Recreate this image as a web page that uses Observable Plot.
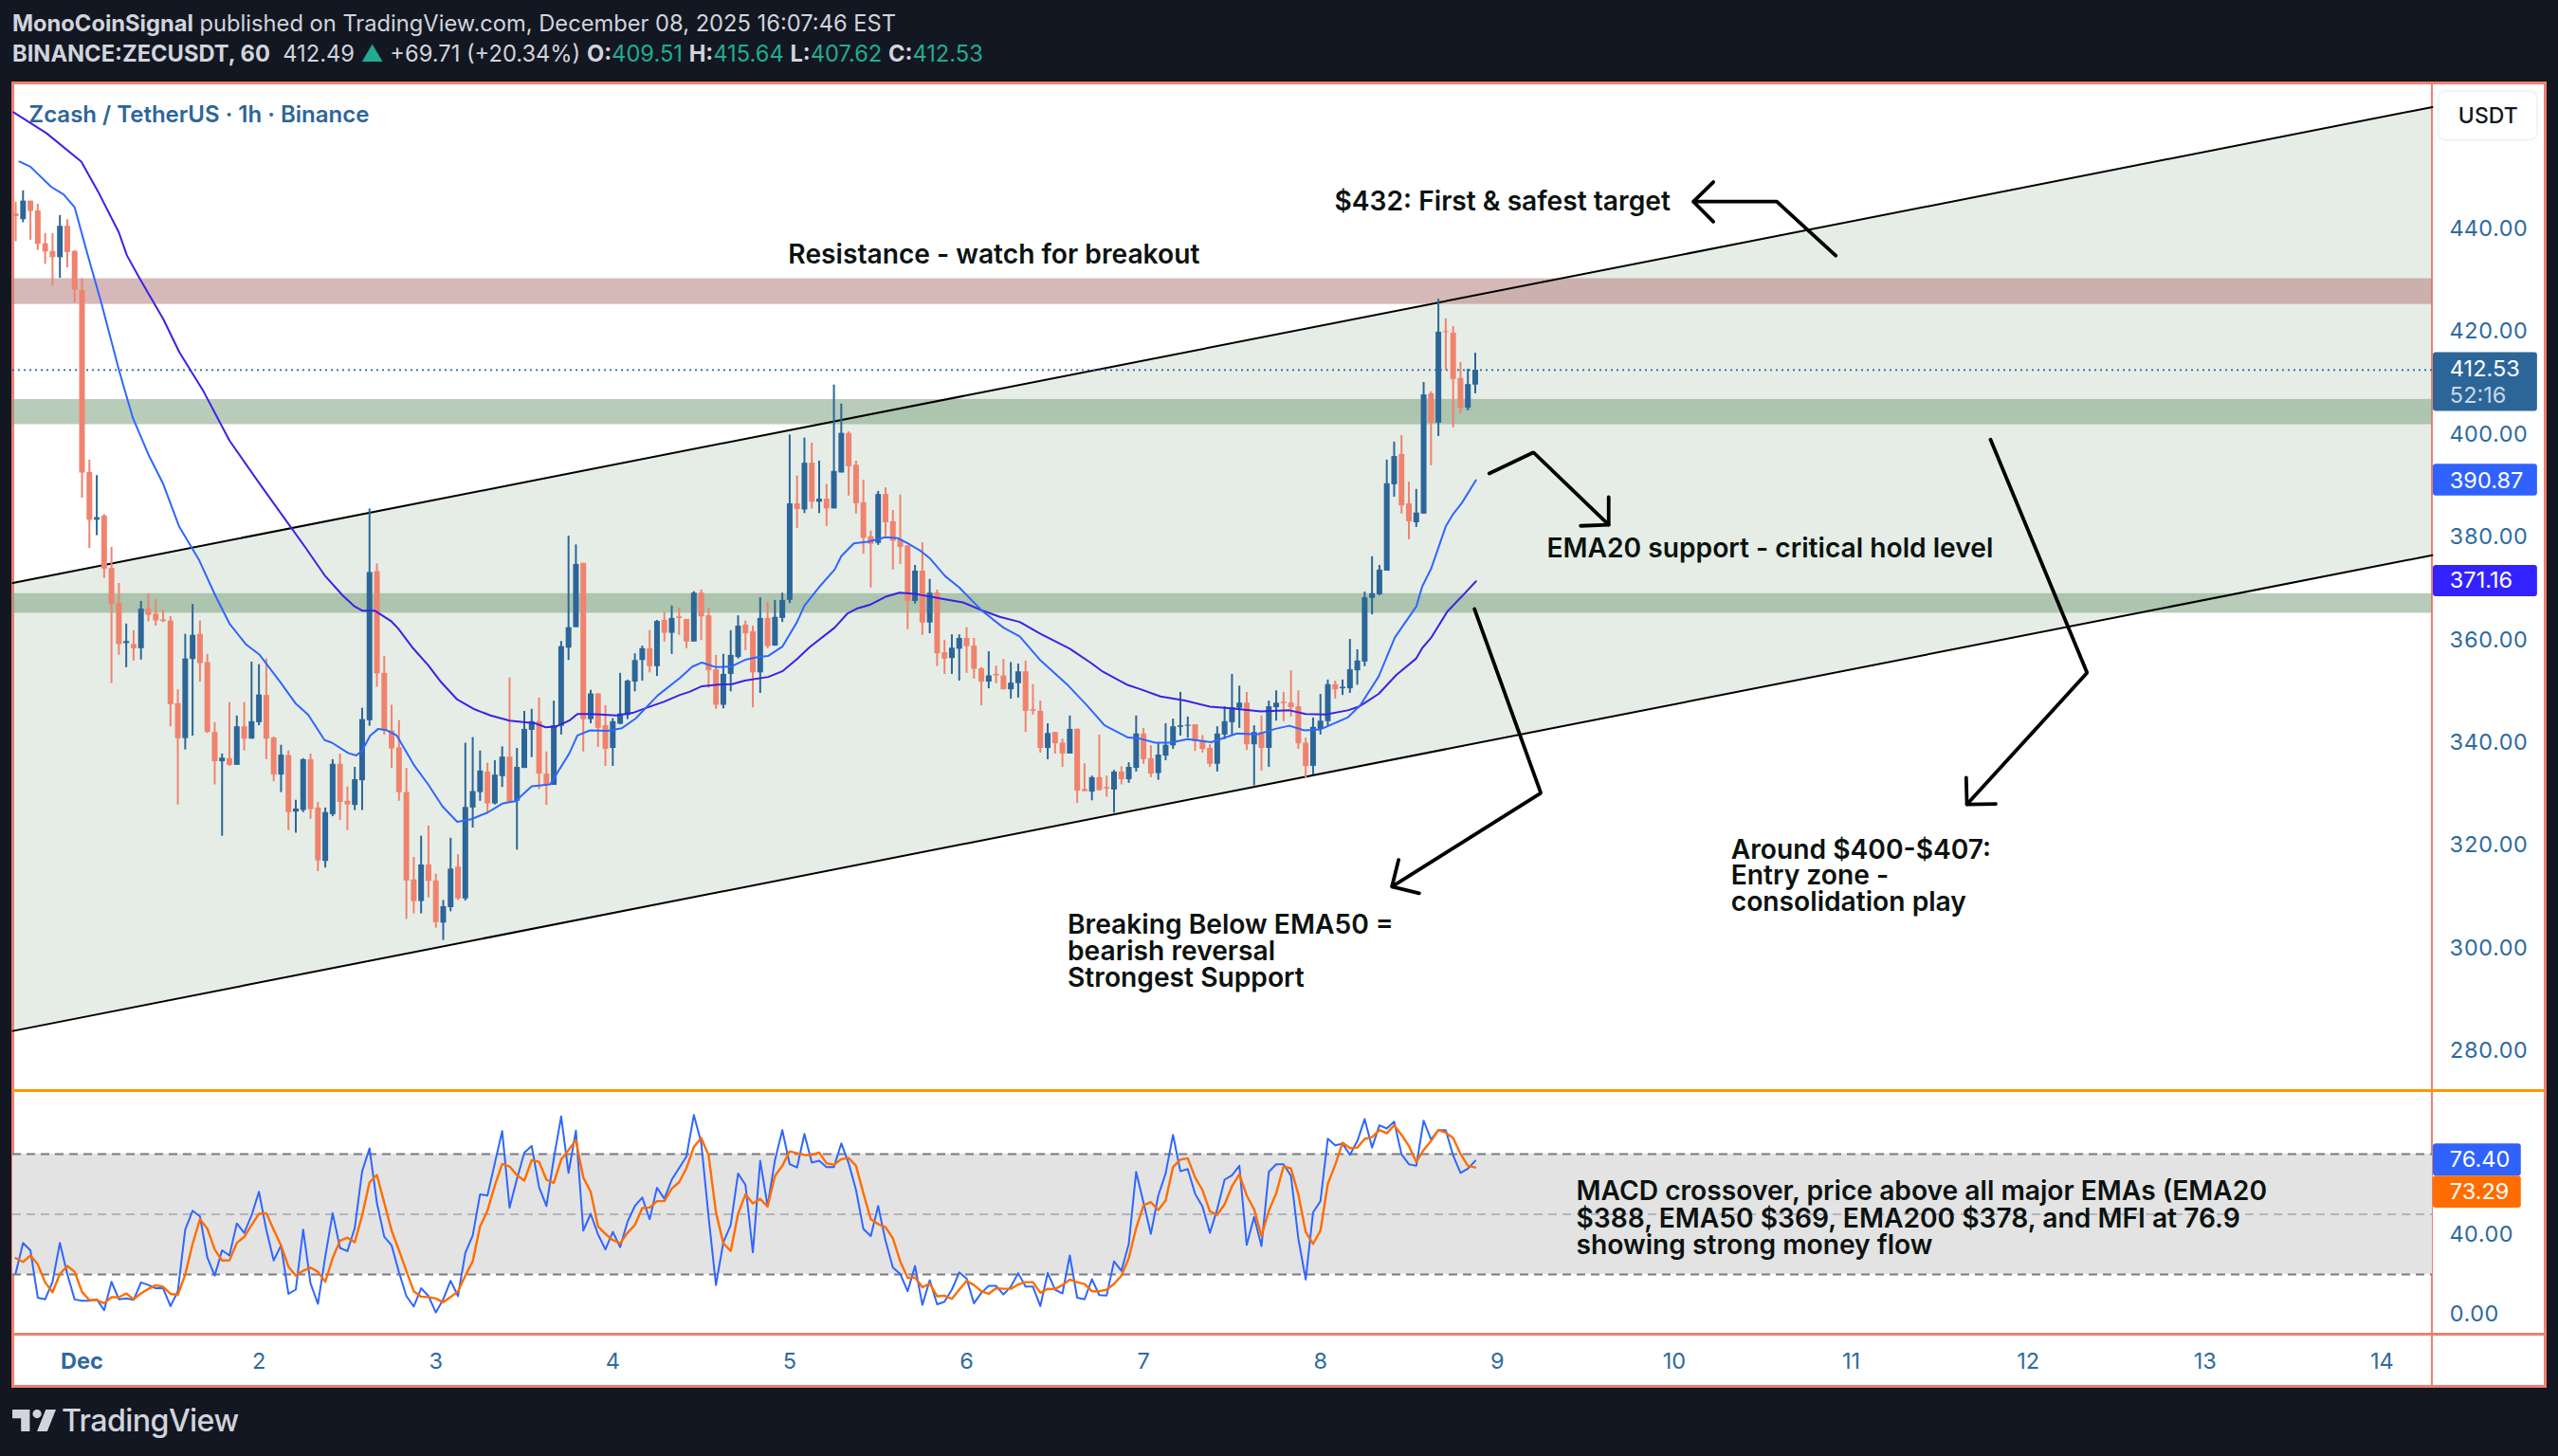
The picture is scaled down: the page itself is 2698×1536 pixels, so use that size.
<!DOCTYPE html>
<html>
<head>
<meta charset="utf-8">
<title>ZECUSDT 1h</title>
<script src="https://cdn.jsdelivr.net/npm/d3@7"></script>
<script src="https://cdn.jsdelivr.net/npm/@observablehq/plot@0.6"></script>
<style>
html,body{margin:0;padding:0;background:#131722;}
#page{position:relative;width:2698px;height:1536px;overflow:hidden;font-family:Inter,Roboto,sans-serif;}
#frame{position:absolute;left:11.5px;top:85.5px;width:2674px;height:1378px;box-sizing:border-box;border:3px solid #f0806e;background:#fff;}
.sep{position:absolute;}
#head{position:relative;height:86px;color:#d1d4dc;font-size:23.7px;line-height:32px;padding-left:13px;box-sizing:border-box;padding-top:9px;white-space:pre;}
#head b{font-weight:700;}
#head i{font-style:normal;color:#22ab94;}
#charts{position:relative;}
#charts svg{display:block;overflow:visible;}
#foot{position:relative;height:86px;color:#d1d4dc;}
#foot svg{position:absolute;left:13px;top:24px;}
#foot span{position:absolute;left:65px;top:16px;font-size:32.2px;font-weight:500;line-height:40px;letter-spacing:-0.6px;}
</style>
</head>
<body>
<div id="page">
  <div id="frame"></div>
  <div class="sep" style="left:2563.5px;top:87px;width:2.5px;height:1375px;background:#f0806e"></div>
  <div class="sep" style="left:13px;top:1149px;width:2671px;height:2.5px;background:#ff9800"></div>
  <div class="sep" style="left:13px;top:1406px;width:2671px;height:2.5px;background:#f0806e"></div>
  <div id="head"><div><b>MonoCoinSignal</b> published on TradingView.com, December 08, 2025 16:07:46 EST</div><div><b>BINANCE:ZECUSDT, 60</b>  412.49 <i>▲</i> +69.71 (+20.34%) <b>O:</b><i>409.51</i> <b>H:</b><i>415.64</i> <b>L:</b><i>407.62</i> <b>C:</b><i>412.53</i></div></div>
  <div id="charts"></div>
  <div id="foot">
    <svg width="46" height="23" viewBox="2 6 30 15"><path fill="#d1d4dc" d="M14 6H2v6h6v9h6V6Zm12 15h-7l6-15h7l-6 15Zm-7-9a3 3 0 1 0 0-6 3 3 0 0 0 0 6Z"/></svg>
    <span>TradingView</span>
  </div>
</div>
<script>
// Hourly candles, Dec 2025 (first candle is 9 hours before the "Dec" tick)
const opens = [442.9,441.8,445.4,443.5,437.1,435.6,434.4,440.5,435.6,428,
392.6,383.3,384.1,373.9,367.1,359.3,359.1,358.3,366,365,
363.9,363.7,347.6,340.8,356.2,361.1,355.6,342,336.3,336.9,
335.6,343.1,340.7,343.9,349.2,340.9,333.7,337.5,326.5,326.8,
336.7,327.3,316.9,326,335.8,328.6,327.8,332.6,344.3,373.3,
353.5,342.3,339,330.3,313.3,309.1,316.2,313.1,304.9,307.9,
315.8,309.6,327.3,330.3,334.3,328.1,333.4,337.2,328.6,335,
342.4,344.1,333.9,331.7,343.2,358.4,362.4,374.9,344.5,349.5,
343.3,338.9,343.6,345.3,351.8,356,358.3,354.8,363.8,361.3,
364.5,364,359.6,369.1,364.7,354.2,347.3,353.3,356.6,362.9,
361.6,353.6,364.2,358.8,364.2,367.7,386.5,385.3,394.4,386.8,
387.4,385.5,392.5,400.2,394,386.7,380.1,378.8,388.3,383,
379.5,378.3,367.5,373.4,363.3,369.1,357.5,356.4,358.2,360.3,
358.8,354.4,351.8,353.3,353,350.3,351.5,353.8,346.4,346.1,
338.9,342,339.9,337.8,342.6,330.9,330.4,333.2,331.3,330.8,
334.3,332.8,335,341.7,336.9,334,337.4,339.4,343,343.2,
343.5,340.4,338.9,335.8,341.5,343.9,346.7,347.7,339.6,342,
338.9,346.8,347.9,347.7,347,339.9,335.4,342.6,344.1,351.3,
350.5,350.5,354,355.7,368.1,368.8,373.4,390.2,396.1,386.5,
382.8,384.5,407.9,402.2,420,419.7,410.9,405.1,409.6];
const highs = [445.2,447.4,445.4,444.8,439.1,439.1,442.6,441.8,435.8,430.3,
395,392,384.4,378,371,363.1,361.8,367.5,369,367.9,
365.8,364.6,350.3,361.1,366.9,363.7,357.2,343.9,337.8,347.8,
345.2,347.8,355.7,355.2,356.3,341.1,339.5,338.4,328.8,336.9,
337.8,328.4,327.3,336.7,337.8,331.4,335.2,346.7,385.5,374.8,
356.8,347.3,344.3,335,317.7,321.8,323.8,314.4,309.3,321.4,
318.2,339.9,341,338.4,336,336.5,339.2,352.6,338.9,346.1,
346.5,348.7,338.2,348.1,359.7,380.2,378.5,374.9,350.2,349.6,
347.2,344.7,353.5,352.2,357.3,358.8,361.8,363.8,365.3,366.6,
366.2,364,369.4,369.7,366.2,357,357.2,361.8,364.7,363.7,
362.7,368.2,367.3,367.7,369.1,399.9,391.9,399.3,398.3,394.8,
390.3,409.6,405.9,400.5,394.8,391.1,381.2,388.9,389.6,385.2,
388.2,378.3,374.5,378.9,371.8,369.7,359.9,361,361,362.4,
360.3,354.6,357.7,354.9,356.2,355.6,355.3,355.9,351.3,348.1,
343.7,342,340.7,345.2,342.7,335.9,333.5,341.5,333.5,334.6,
335.3,336.1,345.2,342.8,339.4,339.9,343.7,344.6,349.8,345,
343.5,341.4,339.6,343.1,347,353.3,351,349.8,343.3,345.2,
348.1,350.1,349.8,354,350.1,340.9,344.8,349.4,352.2,352,
352.2,360.1,358.1,369.3,376.2,374.5,395,398.5,399.8,390.7,
389.3,410.1,408.3,426.3,422.5,421,414,412.7,415.8];
const lows = [437.5,441.2,437.8,435.8,433.1,428.9,430.4,432.4,425.6,387.6,
377.8,380.3,372,351.5,357,354.6,355.9,356.1,363.5,362.7,
363.4,343.1,327.9,338.6,341.3,351.8,341.8,331.8,321.8,335.4,
335.6,338.4,340.7,343.3,336.7,332.4,330.3,322.9,322.4,326.4,
325.1,314.9,315.6,325.6,324.9,322.9,326.8,326.8,343.2,350.8,
341.5,335,328.6,305.6,306.7,306.7,309.8,303.9,301.5,307.1,
309.3,309.2,323.4,328.6,326.4,327.9,331.3,328.2,319.1,335,
337.1,330.9,327.8,331.7,341.5,356,362.4,338.2,343.7,339.1,
335.4,335.4,343.5,344.5,349.9,352,353.6,352.9,359.6,357.2,
360.9,358.3,359.6,359.9,350.6,346.5,346.6,349.9,356.3,357.9,
346.8,349.6,358.3,358.8,363.4,367.1,381.7,384.6,385.5,384.6,
382.1,385.5,392.5,388,384.5,376.7,370.1,378.4,380.1,373.6,
374.7,362,367,360.9,361.2,354.8,353.3,353.3,352,353.5,
352.4,347.2,350.5,351.5,350.3,348.5,348.7,342,345.4,338,
336.7,337.8,335.2,337.8,328.2,330.5,328.7,330.6,329.4,326.3,
331.8,332.1,334.3,335.8,333.2,332.7,336.5,338.7,341.3,340.9,
338.3,338,335.2,334.3,340.6,341.3,342.8,338.5,331.6,334.5,
335.2,344.2,344.1,345,338.7,333,333.7,341.5,343.3,348.5,
349.2,349.6,351.2,354.8,364.9,368.6,373.4,387.8,384.5,379.5,
381.9,384.5,393.9,399.6,412.4,401.3,404,404.6,407.9];
const closes = [442.4,445.4,443.4,437,435.5,434.4,440.5,435.4,428.1,392.5,
383.3,383.8,373.8,366.9,359.1,359.7,358.3,366,364.8,363.7,
363.6,347.4,340.8,356.3,360.9,355.4,342,336.3,337,335.6,
343.1,340.7,344.1,349.3,340.7,333.7,337.6,326.4,327.1,336.7,
327,317,326.4,335.8,328.4,327.9,332.8,344.5,373.1,353.4,
342.3,338.8,330.3,313.1,309.1,316.2,313,305,308.1,315.4,
309.6,327.4,330.5,334.5,328.1,333.7,337.2,328.4,335.2,342.6,
344.1,333.9,331.7,343.3,358.7,362.4,374.7,344.5,349.5,342.8,
338.7,344.1,345.6,352,356,358.3,354.8,363.6,361.3,364.2,
364.2,359.6,369.1,364.5,354,347.3,353.3,357,362.7,361.2,
353.6,364.2,358.7,364.4,367.7,386.5,385.4,394.4,386.8,387.4,
385.5,392.8,400.2,393.7,386.5,379.8,378.6,388.3,382.8,379.2,
378,367.5,373.4,363.3,369.1,357.3,356.3,358.4,360.3,358.7,
354.3,351.8,353,353,350.3,351.6,353.8,346.1,346.1,338.9,
341.8,339.8,337.8,342.6,330.6,330.5,333.2,330.7,331,334.3,
332.8,335.2,341.7,336.7,333.9,337.6,339.5,343.1,343.3,343.4,
340.2,338.7,335.8,341.7,344.1,346.8,347.7,339.6,342,338.9,
347,347.7,347.6,346.8,339.8,335.4,343,344.2,351.3,350.3,
350.8,354.2,355.9,368.2,369,373.6,390.4,395.7,386.1,383,
384.7,407.7,402.2,419.9,419.8,410.7,405.1,409.7,412.5];

// EMA20: [hour, price]
const ema20 = [[-8.5,453.1],[-7,452.1],[-4.2,448.2],[-2.5,446.7],[-1,444.2],[0.7,435.3],[2.65,425.4],[5,412.6],[6.1,407.1],[6.9,403.2],[9.1,395.8],[11,390.4],[13.2,382],[15.9,375.5],[18.1,368.6],[20,363.2],[22.2,359.2],[24.1,357.1],[26.9,351.8],[29,347.6],[30.7,345.4],[32.9,340.5],[33.9,340],[36.1,338],[37.2,337.5],[38,338.5],[39.1,341.4],[40.2,342.7],[41.4,342.4],[42.7,341.4],[45.1,335.5],[47,331.8],[48.9,327.6],[50.9,324.6],[52.8,325.1],[55,326.4],[57.1,328.2],[58.8,328.6],[61,331.5],[63.5,331.9],[66.1,337.9],[67.2,341.4],[68.9,342.4],[71.3,342.3],[73.2,342.8],[75.1,344.7],[78.1,349.2],[81.1,352.6],[82.8,354.8],[84.1,355.6],[86,354.7],[88,354.8],[90.1,356.2],[91.8,356.7],[93.1,356.9],[95,358.7],[97,363.5],[98,366.7],[100,370.3],[102.1,373.7],[103,376.3],[104.7,378.8],[106.6,379.1],[109,380],[110.7,379.8],[112,378.8],[113.7,377.4],[115,375.9],[117.1,372.4],[119,370.2],[122,365.8],[125,362.4],[127.2,360.7],[129.9,356.2],[133.8,351.1],[136.5,347],[138.7,343.4],[141.9,341],[143.2,340.9],[145.6,340],[147.6,340],[150,340.7],[153.2,340.1],[156.7,341.8],[159.4,341.6],[161.9,342.7],[163.8,343.3],[165.8,342.4],[168,342.6],[171.7,344.9],[173.4,347.3],[175.9,352.9],[178.1,360.5],[181,366.5],[181.8,370.4],[183,373.8],[185,382.1],[186,384.5],[187.2,386.7],[189.1,391.1]];
// EMA50: [hour, price]
const ema50 = [[-9.3,462.7],[-4.8,458.6],[-0.1,453.1],[2.2,447.2],[5,439.3],[6.1,434.8],[7.8,430.4],[11,422.5],[13.2,416],[16.4,408.6],[20,398.8],[24.1,390.4],[27.1,384.4],[30.3,378],[32.9,372.6],[35.4,368.6],[36.9,366.6],[38,365.7],[39.7,365.7],[41.9,363.7],[42.9,362.2],[44.9,358.4],[47,355],[48.7,351.8],[50.9,348.4],[53.25,346.5],[55.4,345.3],[58,344.3],[61.4,343.8],[62.9,343],[64.4,343.2],[66.1,344.3],[67.2,345.6],[69.1,345.6],[72.5,345.3],[74.7,345.8],[76.6,346.8],[79,348],[81.1,349.3],[82.4,349.9],[84.1,351],[86.3,351.3],[88.2,351.4],[89.9,352.1],[93.1,352.8],[95,353.9],[97,356.3],[98.7,358.6],[102.1,362.4],[103.8,365.1],[105.1,366.1],[107,366.9],[109,368.4],[110.9,369.2],[113.3,368.9],[116.7,368],[119.5,367.3],[122,365.8],[124.5,364.5],[127.2,363.5],[129.9,361.3],[134,358.3],[136.8,355.6],[138.5,353.8],[141.9,351.2],[143.6,350.4],[146.3,349],[149.6,348.2],[153,347],[155.9,346.7],[159.9,346.1],[163.8,346.3],[166,345.6],[168.7,345.5],[171.7,346.3],[173.2,347],[175.9,349.5],[178.3,353.2],[181,356.4],[181.8,358.4],[183,360.4],[185.2,365.5],[187.4,368.8],[189.1,371.4]];

// Lower-pane oscillator, one value per candle
const stochK = [20.6,35.7,32,8.4,7.6,16.3,35.7,20.2,7.5,6.9,6.9,7.6,2.1,16.3,7.6,8,7.3,16,14.7,13.1,13.1,4.2,11.6,42.3,51.7,48.9,28.4,19.4,32,29.4,45.4,40.7,49.4,61.2,42.3,26.9,34.4,10.3,12.4,42.3,15.5,5.3,28.9,50.5,33.2,31.6,43.1,71.4,82.8,55.7,38.8,34.4,21,9.2,4,13.1,9.2,1,7.6,16.8,9.2,30.8,39.4,59.9,59.3,75.4,91.4,53.3,67.5,80.7,84,63.5,54.1,77.7,98.7,70.6,91.6,41.8,50.2,39.9,32.4,41.2,33.6,46.2,54.1,58.3,47.5,63.2,57.7,67.2,73,78.8,99.4,85.6,48.6,14.7,36,44.6,70.3,64.6,31,
76.6,54.1,76.9,91.9,74.9,73.3,90,75.7,76.6,73.5,73.5,85.3,75.4,62,42.6,39.1,54.1,36.8,23.4,20.2,11.6,24.2,4.8,17.1,5.1,6.4,12.4,21,17.9,5.6,10.8,14.3,14.3,10,13.9,20.6,13.9,13.9,4.2,20.7,12.4,10.5,29.4,8.4,7.6,17.6,9.7,9.5,26.5,21.8,35.2,71.1,55.7,40.2,59.3,70.3,89.5,71.4,72.5,60.1,53.8,40.7,52.5,67.2,69.4,74.1,34.7,48.6,34.1,71.1,74.9,74.9,69.1,37.9,17.4,50.9,56.5,87.6,84.3,85.1,79.6,86.4,97.4,83.2,94.3,92.7,96.1,79.8,74.9,74.1,96.6,87.2,91.9,91.9,79.3,70.6,72.7,76.6];
const stochD = [28.1,26.2,29.4,25,16,11.1,20.2,24.2,21.3,11.3,7.2,7.2,5.6,8.6,8.6,10.5,7.6,10.5,12.8,14.6,13.8,10.3,9.8,19.9,35.2,47.5,42.8,32.4,26.9,27,35.7,38.7,44.6,50.2,50.5,42.3,34.4,23.9,19.4,21.8,23.4,21.3,16.3,28.1,36.8,38.3,36,49.4,65.9,69.5,55.7,41.8,32,21.8,11.6,8.9,8.7,8,6.1,8.7,11.6,19.4,26.5,43.9,51.7,64.3,75,73.8,69.4,66.7,76.9,76.1,67.2,65.6,77.2,82,86.9,68.3,61.2,43.9,40.2,37.1,35.5,40.7,44.6,53,53.3,56.5,56.5,62.8,65.9,73,83.5,88,79.3,50.9,35.5,31.7,50.2,59.9,55.4,
57.6,53.8,69.1,74.1,81.3,80.4,79.5,79.6,80.7,75.4,74.6,77.4,78,74.1,60.4,47.5,45.1,43.5,38,26.5,18.3,18.5,13.6,15.4,9.1,9.4,7.8,12.4,16.8,14.7,11.6,10.3,13.1,12.8,12.8,15,16.1,16.1,10.8,12.8,12.7,14.7,17.4,16.1,15.2,11.6,11.6,12.4,15.2,19.4,28.1,43.1,54.4,56,52.1,56.8,73.5,77.2,77.9,68.3,62,51.4,49.7,54.9,63.9,69.8,59.3,52.5,39.1,51.7,60.4,73.8,72.8,59.9,41.2,35.2,41.8,65.1,74.6,85.6,82.9,83.2,87.5,88.4,91.9,90.3,94.3,89.5,84,76.1,82,86.4,91.9,90.6,88,80.1,74.1,73.3];

// Horizontal zones and channel
const zonePrices = [[425.3,430.3,"#b47e80"],[401.9,406.8,"#7ea280"],[365.2,369,"#7ea280"]];
const channelHours = [-9.39,318.84];
const channelLow = [283.9,376.5];
const channelHigh = [371.1,463.7];
const lastPrice = 412.53;

// Axes
const priceTicks = [280,300,320,340,360,380,400,420,440];
const oscTicks = [0,40];
const oscLevels = [[80,"#787b86"],[50,"#b2b5be"],[20,"#787b86"]];
const dayHours = [0,24,48,72,96,120,144,168,192,216,240,264,288,312];
const dayLabels = ["Dec","2","3","4","5","6","7","8","9","10","11","12","13","14"];

// Hand-drawn arrows: polyline id, hour, price
const arrowIds =   [1,1,1, 2,2,2, 3,3,3, 4,4,4, 5,5,5, 6,6,6, 7,7,7, 8,8,8];
const arrowHours = [237.9,229.9,218.6, 221.3,218.6,221.3, 190.9,196.9,207.1, 207.1,207.1,203.3, 188.9,197.9,177.7, 178.6,177.7,181.4, 258.9,272,255.7, 255.6,255.7,259.6];
const arrowPrices= [434.8,445.3,445.3, 449.1,445.3,441.4, 392.4,396.5,382.4, 387.8,382.4,382.2, 366,330.2,312, 317.2,312,310.7, 399,353.6,328, 333.2,328,328.1];

// Text notes on the price pane
const notes = ["$432: First & safest target","Resistance - watch for breakout","EMA20 support - critical hold level","Around $400-$407:","Entry zone -","consolidation play","Breaking Below EMA50 =","bearish reversal","Strongest Support"];
const noteHours = [169.9,95.8,198.7,223.7,223.7,223.7,133.7,133.7,133.7];
const notePrices = [445.2,434.9,377.8,319,314,308.9,304.5,299.4,294.1];
const oscNotes = ["MACD crossover, price above all major EMAs (EMA20","$388, EMA50 $369, EMA200 $378, and MFI at 76.9","showing strong money flow"];
const oscNoteHours = [202.7,202.7,202.7];
const oscNoteValues = [61.2,47.8,34.5];

// Right-hand price tags
const tagLeft = 318.97, tagRight = 333.1, tagRightLow = 330.9, tagText = 321.2;
const priceTags = [[415.9,404.5,"#2c6699"],[394.2,388,"#2f62ff"],[374.5,368.4,"#3322ff"]];
const priceTagText = [["412.53",412.7,"#ffffff"],["52:16",407.5,"#c9d8e6"],["390.87",391,"#ffffff"],["371.16",371.5,"#ffffff"]];
const oscTags = [[85,69,"#2f62ff","76.40"],[69,53,"#ff6d00","73.29"]];

const candles = opens.map((o,i)=>({h:i-9,o,c:closes[i],hi:highs[i],lo:lows[i],top:Math.max(o,closes[i]),bot:Math.min(o,closes[i])}));
const ups = candles.filter(d=>d.c>=d.o), downs = candles.filter(d=>d.c<d.o);
const UP="#2c6699", DOWN="#f0836e", AXIS="#2f6a9f", INK="#0c1210";
const NOTE_SIZE = 28.2;
const channel = channelHours.map((h,i)=>({h,lo:channelLow[i],hi:channelHigh[i]}));
const zones = zonePrices.map(([a,b,f])=>({a,b,f}));
const arrows = arrowIds.map((id,i)=>({id,h:arrowHours[i],p:arrowPrices[i]}));
const xDomain = [channelHours[0],channelHours[1]];
const common = {width:2698,marginLeft:13,marginRight:133,x:{domain:xDomain,axis:null},style:{background:"transparent",fontFamily:"Inter,Roboto,sans-serif",overflow:"visible"}};

const pricePane = Plot.plot({...common,height:1064,marginTop:1,marginBottom:0,
  y:{domain:[272.3,468.4],axis:null},
  marks:[
    Plot.areaY(channel,{x:"h",y1:"lo",y2:"hi",fill:"#82a582",fillOpacity:0.2}),
    ...zones.map(z=>Plot.rect([z],{x1:()=>xDomain[0],x2:()=>xDomain[1],y1:"a",y2:"b",fill:z.f,fillOpacity:0.55})),
    Plot.line(channel,{x:"h",y:"hi",stroke:"#000",strokeWidth:2}),
    Plot.line(channel,{x:"h",y:"lo",stroke:"#000",strokeWidth:2}),
    Plot.ruleY([lastPrice],{stroke:UP,strokeWidth:1.6,strokeDasharray:"2 4"}),
    Plot.ruleX(ups,{x:"h",y1:"lo",y2:"hi",stroke:UP,strokeWidth:2}),
    Plot.ruleX(downs,{x:"h",y1:"lo",y2:"hi",stroke:DOWN,strokeWidth:2}),
    Plot.ruleX(ups,{x:"h",y1:"bot",y2:"top",stroke:UP,strokeWidth:6}),
    Plot.ruleX(downs,{x:"h",y1:"bot",y2:"top",stroke:DOWN,strokeWidth:6}),
    Plot.line(ema50,{x:d=>d[0],y:d=>d[1],stroke:"#3a22e6",strokeWidth:2,curve:"linear"}),
    Plot.line(ema20,{x:d=>d[0],y:d=>d[1],stroke:"#2f66ff",strokeWidth:2,curve:"linear"}),
    Plot.line(arrows,{x:"h",y:"p",z:"id",stroke:"#000",strokeWidth:3.8,strokeLinecap:"round",strokeLinejoin:"miter"}),
    Plot.text(notes,{x:(d,i)=>noteHours[i],y:(d,i)=>notePrices[i],text:d=>d,textAnchor:"start",lineAnchor:"middle",fontSize:NOTE_SIZE,fontWeight:600,fill:INK}),
    Plot.text(["Zcash / TetherUS · 1h · Binance"],{frameAnchor:"top-left",dx:17,dy:34,lineAnchor:"middle",textAnchor:"start",fontSize:24,fontWeight:600,fill:UP}),
    Plot.axisY({anchor:"right",ticks:priceTicks,tickFormat:d=>d.toFixed(2),tickSize:0,tickPadding:18,fontSize:23.5,color:AXIS,fill:AXIS,label:null}),
    Plot.rect(priceTags,{x1:()=>tagLeft,x2:()=>tagRight,y1:d=>d[0],y2:d=>d[1],fill:d=>d[2],rx:3}),
    Plot.text(priceTagText,{x:()=>tagText,y:d=>d[1],text:d=>d[0],fill:d=>d[2],textAnchor:"start",lineAnchor:"middle",fontSize:23.5}),
    Plot.rect([0],{x1:()=>319.7,x2:()=>333.1,y1:()=>466.8,y2:()=>457.2,fill:"#fff",stroke:"#f0f3fa",strokeWidth:2,rx:8}),
    Plot.text(["USDT"],{x:()=>326.4,y:()=>462,text:d=>d,fill:"#131722",textAnchor:"middle",lineAnchor:"middle",fontSize:23,fontWeight:500})
  ]});

const oscPane = Plot.plot({...common,height:313,marginTop:0,marginBottom:56,
  y:{domain:[-9.8,111.6],axis:null},
  marks:[
    Plot.rect([0],{x1:()=>xDomain[0],x2:()=>xDomain[1],y1:()=>20,y2:()=>80,fill:"#e3e3e3"}),
    Plot.ruleY(oscLevels,{y:d=>d[0],stroke:d=>d[1],strokeWidth:2,strokeDasharray:"9 6"}),
    Plot.text(oscNotes,{x:(d,i)=>oscNoteHours[i],y:(d,i)=>oscNoteValues[i],text:d=>d,textAnchor:"start",lineAnchor:"middle",fontSize:NOTE_SIZE,fontWeight:600,fill:INK}),
    Plot.line(stochK,{x:(d,i)=>i-9,y:d=>d,stroke:"#2f66ff",strokeWidth:2,curve:"linear"}),
    Plot.line(stochD,{x:(d,i)=>i-9,y:d=>d,stroke:"#ff6d00",strokeWidth:2.4,curve:"linear"}),
    Plot.axisY({anchor:"right",ticks:oscTicks,tickFormat:d=>d.toFixed(2),tickSize:0,tickPadding:18,fontSize:23.5,color:AXIS,fill:AXIS,label:null}),
    Plot.rect(oscTags,{x1:()=>tagLeft,x2:()=>tagRightLow,y1:d=>d[0],y2:d=>d[1],fill:d=>d[2],rx:3}),
    Plot.text(oscTags,{x:()=>tagText,y:d=>(d[0]+d[1])/2,text:d=>d[3],fill:"#fff",textAnchor:"start",lineAnchor:"middle",fontSize:23.5}),
    Plot.text(dayLabels.slice(1),{x:(d,i)=>dayHours[i+1],text:d=>d,frameAnchor:"bottom",dy:29,lineAnchor:"middle",fill:AXIS,fontSize:23.5}),
    Plot.text(dayLabels.slice(0,1),{x:()=>dayHours[0],text:d=>d,frameAnchor:"bottom",dy:29,lineAnchor:"middle",fill:AXIS,fontSize:23.5,fontWeight:700})
  ]});

document.getElementById("charts").append(pricePane,oscPane);
</script>
</body>
</html>
